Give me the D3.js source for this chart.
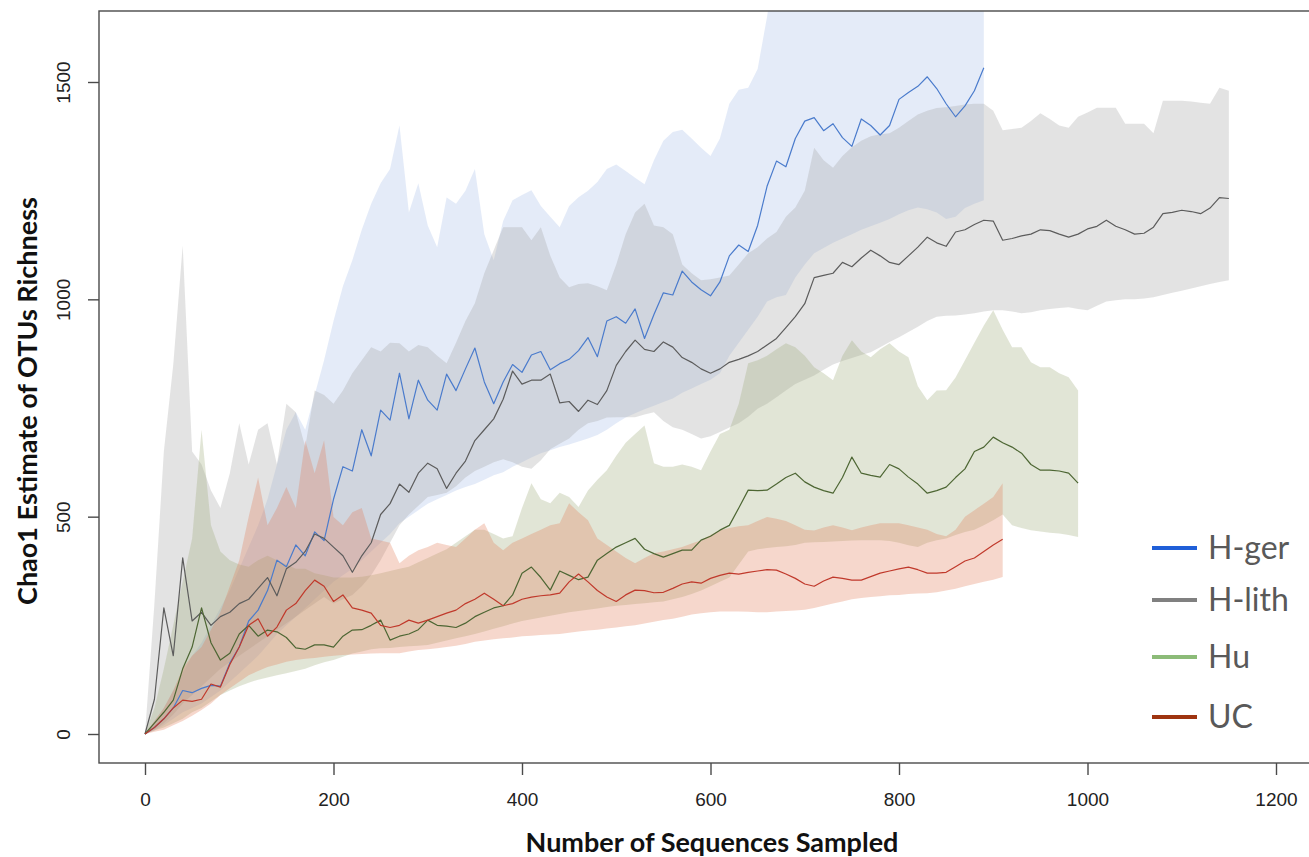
<!DOCTYPE html>
<html>
<head>
<meta charset="utf-8">
<script src="https://cdn.jsdelivr.net/npm/d3@7"></script>
<style>
  body { margin: 0; background: #fff; }
  svg { display: block; }
</style>
</head>
<body>
<svg id="chart" width="1309" height="857"></svg>
<script>
// samples are every 10 sequences, starting at 0
const STEP = 10;

const seriesNames = ['H-ger', 'H-lith', 'Hu', 'UC'];
const xTicks = [0, 200, 400, 600, 800, 1000, 1200];
const yTicks = [0, 500, 1000, 1500];

// H-ger (0..890)
const hgerLine = [0,15,35,60,100,95,105,112,110,163,
  200,260,285,330,400,385,435,410,465,445,
  540,615,605,700,640,745,722,830,725,814,
  768,745,828,790,840,888,810,760,810,850,
  832,872,880,838,852,862,882,912,868,950,
  960,945,978,910,965,1015,1010,1065,1040,1022,
  1008,1040,1100,1125,1110,1170,1260,1318,1305,1370,
  1410,1418,1388,1404,1372,1352,1415,1400,1378,1400,
  1460,1476,1490,1512,1485,1450,1420,1445,1480,1533];
const hgerHi = [0,30,60,100,140,180,210,250,290,330,
  380,430,480,540,620,700,740,700,780,860,
  950,1030,1090,1160,1220,1267,1300,1400,1200,1267,
  1170,1120,1234,1220,1250,1300,1150,1090,1180,1228,
  1240,1251,1215,1190,1166,1215,1235,1250,1270,1300,
  1310,1295,1280,1265,1320,1365,1385,1390,1370,1349,
  1330,1370,1450,1482,1487,1530,1650,1800,1800,1800,
  1800,1800,1800,1800,1800,1800,1800,1800,1800,1800,
  1800,1800,1800,1800,1800,1800,1800,1800,1800,1800];
const hgerLo = [0,8,20,35,50,60,70,85,100,120,
  140,160,180,205,230,250,270,290,310,330,
  350,365,380,400,420,440,460,485,500,515,
  530,540,550,560,568,575,585,595,602,615,
  625,636,646,653,660,666,673,680,688,700,
  715,728,738,747,755,764,772,785,795,805,
  815,830,870,900,930,960,995,1005,1010,1050,
  1080,1106,1118,1130,1140,1150,1160,1168,1176,1185,
  1196,1205,1211,1207,1200,1185,1190,1210,1220,1228];

// H-lith (0..1150)
const hlithLine = [0,80,290,180,405,260,280,250,270,280,
  300,310,335,360,318,380,395,420,460,450,
  430,410,372,410,440,505,530,575,556,600,
  623,610,565,600,628,675,700,725,770,835,
  805,814,814,828,762,765,742,768,758,790,
  848,880,906,885,880,902,890,866,855,840,
  830,840,855,862,870,880,895,910,935,960,
  990,1050,1055,1060,1085,1075,1095,1113,1100,1085,
  1080,1100,1120,1143,1130,1122,1155,1160,1172,1182,
  1180,1136,1140,1146,1150,1160,1158,1150,1143,1150,
  1162,1168,1182,1168,1160,1150,1152,1166,1197,1200,
  1205,1202,1197,1210,1234,1232];
const hlithHi = [0,300,650,850,1124,650,620,560,520,600,
  715,620,700,715,620,760,740,660,790,780,
  760,790,830,860,890,880,900,899,880,895,
  890,870,853,900,950,991,1060,1113,1166,1166,
  1166,1136,1166,1100,1050,1028,1035,1037,1030,1021,
  1080,1150,1200,1220,1170,1166,1150,1080,1060,1044,
  1046,1050,1055,1080,1106,1120,1140,1155,1190,1211,
  1250,1349,1320,1303,1330,1350,1365,1375,1380,1382,
  1395,1410,1425,1434,1440,1442,1445,1448,1450,1450,
  1434,1389,1392,1395,1410,1428,1415,1400,1395,1420,
  1430,1441,1441,1441,1404,1404,1404,1382,1457,1457,
  1457,1455,1452,1450,1487,1480];
const hlithLo = [0,10,25,45,70,90,110,130,150,165,
  180,195,210,225,240,255,270,285,300,315,
  300,310,320,340,365,400,440,480,505,525,
  545,550,555,570,590,605,615,625,632,625,
  615,610,630,655,668,680,700,715,720,728,
  729,729,729,735,740,720,706,700,690,680,
  685,695,705,715,730,748,760,775,790,805,
  815,825,838,850,858,865,872,878,890,902,
  913,925,937,950,960,962,963,965,968,972,
  975,975,972,968,970,975,978,980,982,978,
  975,985,995,998,1000,1000,1002,1005,1010,1015,
  1020,1025,1030,1035,1040,1044];

// Hu (0..990)
const huLine = [0,25,50,78,150,200,290,210,170,186,
  230,250,225,239,235,222,198,195,205,205,
  200,225,239,240,250,262,216,225,230,240,
  262,250,248,245,255,270,280,290,295,320,
  370,384,360,331,375,365,355,361,400,415,
  430,440,450,425,415,407,415,423,423,446,
  455,469,480,520,561,560,561,575,590,600,
  580,568,560,554,590,637,600,595,591,620,
  610,591,575,554,560,568,590,610,650,660,
  683,670,660,646,620,607,607,605,600,577];
const huHi = [0,60,150,250,350,450,700,480,420,400,
  390,385,400,410,400,390,380,380,370,365,
  360,360,360,362,365,370,375,380,385,395,
  405,415,425,440,455,470,470,460,450,455,
  520,577,540,531,555,545,522,560,585,607,
  640,670,690,710,623,615,615,620,615,607,
  650,690,700,760,853,860,870,885,899,890,
  870,844,830,814,870,906,880,867,885,899,
  880,867,800,768,790,791,820,860,900,940,
  975,930,890,890,855,844,844,830,821,790];
const huLo = [0,8,15,25,35,50,60,75,90,100,
  110,118,125,130,135,140,145,150,158,165,
  170,178,185,190,195,197,198,200,202,203,
  205,210,215,220,225,230,236,242,248,254,
  260,264,268,272,276,280,283,286,289,292,
  295,297,299,301,303,305,310,315,322,330,
  340,350,360,390,420,425,428,430,432,435,
  440,441,442,443,444,445,446,446,446,444,
  440,434,430,440,446,450,458,465,470,480,
  492,505,480,474,469,466,463,461,458,453];

// UC (0..910)
const ucLine = [0,15,35,60,78,75,80,115,108,160,
  200,250,265,225,246,285,300,330,354,340,
  305,320,290,285,278,250,245,250,262,255,
  262,270,278,285,300,310,324,310,295,300,
  310,315,318,320,324,350,368,350,330,315,
  305,320,331,330,325,326,335,345,350,347,
  358,365,370,368,372,375,378,377,368,358,
  345,340,352,361,358,354,354,362,370,375,
  380,384,378,370,370,372,385,398,405,420,
  435,448];
const ucHi = [0,30,60,100,150,180,200,240,280,340,
  400,500,590,480,520,568,520,676,600,676,
  499,480,510,520,450,445,440,393,410,423,
  430,440,435,430,450,470,485,440,423,440,
  450,460,470,480,485,531,510,492,450,435,
  420,405,393,405,416,420,425,430,438,446,
  458,469,474,478,480,490,499,495,490,480,
  470,468,475,480,475,469,475,480,485,485,
  485,480,475,470,460,455,470,500,515,530,
  545,577];
const ucLo = [0,5,10,20,30,42,55,70,90,105,
  120,135,145,154,160,166,170,173,175,178,
  180,182,183,184,185,186,186,186,190,193,
  195,197,200,203,207,212,215,218,220,222,
  225,226,228,229,230,233,236,238,240,243,
  245,248,250,254,258,262,265,270,275,278,
  280,282,282,282,281,280,280,282,283,284,
  286,290,295,300,305,310,313,315,317,319,
  320,322,323,324,326,330,334,340,345,350,
  355,361];

const series = [
  { name: 'H-ger',  line: hgerLine,  lo: hgerLo,  hi: hgerHi,  fill: '#a5bce8', stroke: '#4a7bcc', key: '#1f5fd8' },
  { name: 'H-lith', line: hlithLine, lo: hlithLo, hi: hlithHi, fill: '#a3a3a3', stroke: '#5c5c5c', key: '#808080' },
  { name: 'Hu',     line: huLine,    lo: huLo,    hi: huHi,    fill: '#9ca977', stroke: '#4d6633', key: '#8cbb78' },
  { name: 'UC',     line: ucLine,    lo: ucLo,    hi: ucHi,    fill: '#e07a55', stroke: '#c0392b', key: '#9e3410' }
];

const box = { left: 99, top: 11, right: 1340, bottom: 763 };

const svg = d3.select('#chart');
svg.append('rect').attr('width', 1309).attr('height', 857).attr('fill', '#fff');

const x = d3.scaleLinear().domain([0, 1200]).range([145, 1276]);
const y = d3.scaleLinear().domain([0, 1500]).range([734, 82]);

svg.append('clipPath').attr('id', 'plot-clip')
  .append('rect')
  .attr('x', box.left).attr('y', box.top)
  .attr('width', box.right - box.left).attr('height', box.bottom - box.top);

const plot = svg.append('g').attr('clip-path', 'url(#plot-clip)');

// confidence bands
const band = d3.area()
  .x((d, i) => x(i * STEP))
  .y0(d => y(d[0]))
  .y1(d => y(d[1]));

plot.selectAll('path.band')
  .data(series)
  .join('path')
  .attr('class', 'band')
  .attr('d', s => band(d3.zip(s.lo, s.hi)))
  .attr('fill', s => s.fill)
  .attr('fill-opacity', 0.3)
  .attr('stroke', 'none');

// rarefaction curves
const line = d3.line()
  .x((d, i) => x(i * STEP))
  .y(d => y(d));

plot.selectAll('path.curve')
  .data(series)
  .join('path')
  .attr('class', 'curve')
  .attr('d', s => line(s.line))
  .attr('fill', 'none')
  .attr('stroke', s => s.stroke)
  .attr('stroke-width', 1.2)
  .attr('stroke-linejoin', 'round');

// frame
svg.append('rect')
  .attr('x', box.left).attr('y', box.top)
  .attr('width', box.right - box.left).attr('height', box.bottom - box.top)
  .attr('fill', 'none')
  .attr('stroke', '#4a4a4a')
  .attr('stroke-width', 1.4);

// x axis
const xAxis = d3.axisBottom(x).tickValues(xTicks).tickFormat(d3.format('d'))
  .tickSize(12).tickPadding(18);
const gx = svg.append('g')
  .attr('transform', `translate(0,${box.bottom})`)
  .call(xAxis);
gx.select('.domain').remove();
gx.selectAll('.tick line').attr('stroke', '#4a4a4a').attr('stroke-width', 1.4);
gx.selectAll('.tick text')
  .attr('fill', '#222')
  .style('font-family', '"Liberation Sans", Arial, sans-serif')
  .style('font-size', '19px');

// y axis, labels turned like R's default
const yAxis = d3.axisLeft(y).tickValues(yTicks).tickFormat(d3.format('d')).tickSize(11);
const gy = svg.append('g')
  .attr('transform', `translate(${box.left},0)`)
  .call(yAxis);
gy.select('.domain').remove();
gy.selectAll('.tick line').attr('stroke', '#4a4a4a').attr('stroke-width', 1.4);
gy.selectAll('.tick text')
  .attr('transform', 'rotate(-90)')
  .attr('text-anchor', 'middle')
  .attr('x', 0)
  .attr('y', -36)
  .attr('dy', '0.35em')
  .attr('fill', '#222')
  .style('font-family', '"Liberation Sans", Arial, sans-serif')
  .style('font-size', '19px');

// axis titles
svg.append('text')
  .attr('x', 712).attr('y', 852)
  .attr('text-anchor', 'middle')
  .attr('fill', '#111')
  .style('font-family', 'Lato, "Open Sans", sans-serif')
  .style('font-weight', 'bold')
  .style('font-size', '27px')
  .text('Number of Sequences Sampled');

svg.append('text')
  .attr('transform', 'translate(37,401) rotate(-90)')
  .attr('text-anchor', 'middle')
  .attr('fill', '#111')
  .style('font-family', 'Lato, "Open Sans", sans-serif')
  .style('font-weight', 'bold')
  .style('font-size', '27px')
  .text('Chao1 Estimate of OTUs Richness');

// legend
const legendY = [548, 600, 657, 717];
const legend = svg.append('g').attr('class', 'legend');
const items = legend.selectAll('g')
  .data(series)
  .join('g')
  .attr('transform', (d, i) => `translate(1152,${legendY[i]})`);
items.append('line')
  .attr('x1', 0).attr('x2', 45)
  .attr('stroke', d => d.key)
  .attr('stroke-width', 4);
items.append('text')
  .attr('x', 56).attr('y', 11)
  .attr('fill', '#595959')
  .style('font-family', 'Lato, "Open Sans", sans-serif')
  .style('font-size', '32px')
  .text(d => d.name);
</script>
</body>
</html>
